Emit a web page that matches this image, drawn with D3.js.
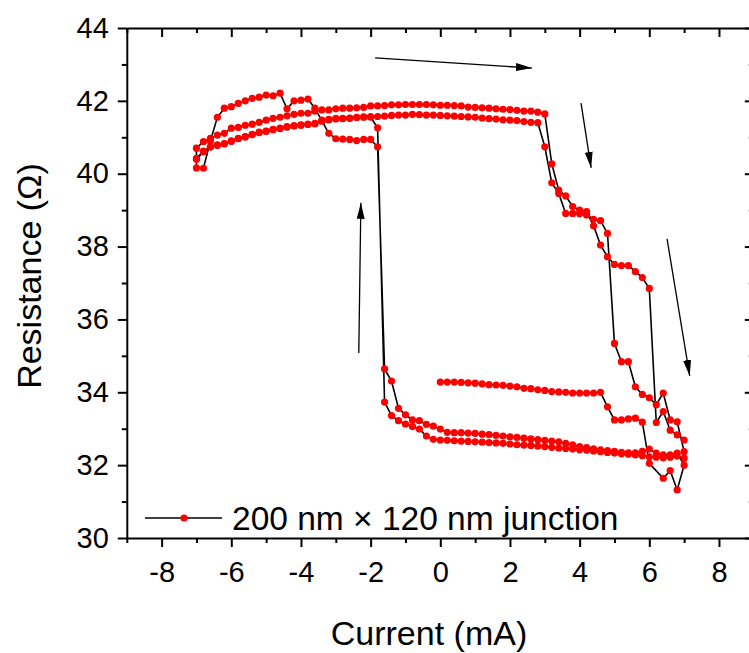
<!DOCTYPE html>
<meta charset="utf-8">
<style>
body { margin: 0; background: #fff; }
text { font-family: "Liberation Sans", Arial, sans-serif; fill: #000; }
.tick text { font-size: 29px; }
.axis path, .axis line { stroke: #000; }
</style>
<body>
<script src="https://cdnjs.cloudflare.com/ajax/libs/d3/7.8.5/d3.min.js"></script>
<script>

// sweep 1: 0 -> +7 mA (initial)
var sweep1 = [[0,34.28],[0.2,34.28],[0.4,34.28],[0.6,34.27],[0.8,34.26],[1.0,34.25],[1.2,34.23],[1.4,34.21],
  [1.6,34.2],[1.8,34.19],[2.0,34.17],[2.2,34.15],[2.4,34.11],[2.6,34.1],[2.8,34.07],[3.0,34.05],[3.2,34.02],
  [3.4,34.01],[3.6,34.0],[3.8,33.98],[4.0,33.98],[4.2,33.98],[4.4,33.98],[4.6,34.0],[4.8,33.6],[5.0,33.24],
  [5.2,33.24],[5.4,33.27],[5.6,33.29],[5.8,33.18],[6.0,32.05],[6.4,31.64],[6.6,31.85],[6.8,31.32],[7.0,32.0]];

// sweep 2: +7 -> -7 mA
var sweep2 = [[6.8,32.33],[6.6,32.28],[6.4,32.28],[6.2,32.33],[6.0,32.44],[5.8,32.38],[5.6,32.34],[5.4,32.34],
  [5.2,32.35],[5.0,32.38],[4.8,32.4],[4.6,32.42],[4.4,32.45],[4.2,32.48],[4.0,32.51],[3.8,32.56],[3.6,32.6],
  [3.4,32.64],[3.2,32.66],[3.0,32.68],[2.8,32.7],[2.6,32.72],[2.4,32.74],[2.2,32.76],[2.0,32.78],[1.8,32.8],
  [1.6,32.82],[1.4,32.84],[1.2,32.85],[1.0,32.87],[0.8,32.88],[0.6,32.89],[0.4,32.89],[0.2,32.9],[0.0,32.99],
  [-0.2,33.07],[-0.4,33.12],[-0.6,33.22],[-0.8,33.24],[-1.0,33.38],[-1.2,33.56],[-1.4,34.31],[-1.6,34.64],
  [-1.8,40.74],[-2.0,40.94],[-2.2,40.94],[-2.4,40.91],[-2.6,40.94],[-2.8,40.95],[-3.0,40.96],[-3.2,41.11],
  [-3.4,41.45],[-3.6,41.8],[-3.8,42.05],[-4.0,42.02],[-4.2,42.0],[-4.4,41.78],[-4.6,42.21],[-4.8,42.14],
  [-5.0,42.16],[-5.2,42.1],[-5.4,42.07],[-5.6,42.0],[-5.8,41.93],[-6.0,41.84],[-6.2,41.8],[-6.4,41.55],
  [-6.6,40.9],[-6.8,40.15],[-7.0,40.16]];

// sweep 3: -7 -> +7 mA
var sweep3 = [[-7.0,40.4],[-6.8,40.6],[-6.6,40.74],[-6.4,40.79],[-6.2,40.83],[-6.0,40.9],[-5.8,40.97],
  [-5.6,41.02],[-5.4,41.08],[-5.2,41.14],[-5.0,41.17],[-4.8,41.22],[-4.6,41.25],[-4.4,41.29],[-4.2,41.32],
  [-4.0,41.34],[-3.8,41.36],[-3.6,41.38],[-3.4,41.47],[-3.2,41.49],[-3.0,41.52],[-2.8,41.52],[-2.6,41.53],
  [-2.4,41.55],[-2.2,41.56],[-2.0,41.57],[-1.8,41.57],[-1.6,41.58],[-1.4,41.6],[-1.2,41.61],[-1.0,41.61],
  [-0.8,41.63],[-0.6,41.62],[-0.4,41.61],[-0.2,41.61],[0.0,41.6],[0.2,41.59],[0.4,41.58],[0.6,41.57],
  [0.8,41.56],[1.0,41.55],[1.2,41.53],[1.4,41.51],[1.6,41.5],[1.8,41.48],[2.0,41.47],[2.2,41.46],
  [2.4,41.43],[2.6,41.41],[2.8,41.4],[3.0,40.74],[3.2,39.75],[3.4,39.46],[3.6,38.91],[3.8,38.91],
  [4.0,38.9],[4.2,38.87],[4.4,38.75],[4.6,38.71],[4.8,38.36],[5.0,35.34],[5.2,34.84],[5.4,34.84],
  [5.6,34.15],[5.8,33.94],[6.0,33.85],[6.2,33.66],[6.4,33.98],[6.6,33.24],[6.8,33.19],[7.0,32.37]];

// sweep 4: +7 -> -7 mA
var sweep4 = [[7.0,32.19],[6.8,32.25],[6.6,32.22],[6.4,32.2],[6.2,32.22],[6.0,32.23],[5.8,32.26],[5.6,32.28],
  [5.4,32.3],[5.2,32.31],[5.0,32.33],[4.8,32.35],[4.6,32.37],[4.4,32.39],[4.2,32.41],[4.0,32.42],[3.8,32.44],
  [3.6,32.46],[3.4,32.47],[3.2,32.49],[3.0,32.51],[2.8,32.52],[2.6,32.54],[2.4,32.55],[2.2,32.56],[2.0,32.58],
  [1.8,32.6],[1.6,32.61],[1.4,32.62],[1.2,32.63],[1.0,32.64],[0.8,32.65],[0.6,32.66],[0.4,32.67],[0.2,32.68],
  [0.0,32.69],[-0.2,32.71],[-0.4,32.8],[-0.6,32.99],[-0.8,33.06],[-1.0,33.13],[-1.2,33.22],[-1.4,33.36],
  [-1.6,33.73],[-1.8,41.26],[-2.0,41.55],[-2.2,41.55],[-2.4,41.54],[-2.6,41.52],[-2.8,41.51],[-3.0,41.5],
  [-3.2,41.48],[-3.4,41.45],[-3.6,41.37],[-3.8,41.35],[-4.0,41.33],[-4.2,41.31],[-4.4,41.28],[-4.6,41.24],
  [-4.8,41.21],[-5.0,41.16],[-5.2,41.13],[-5.4,41.07],[-5.6,41.01],[-5.8,40.96],[-6.0,40.89],[-6.2,40.82],
  [-6.4,40.78],[-6.6,40.73],[-6.8,40.62],[-7.0,40.42]];

// sweep 5: -7 -> +7 mA
var sweep5 = [[-7.0,40.7],[-6.8,40.88],[-6.6,40.97],[-6.4,41.06],[-6.2,41.11],[-6.0,41.25],[-5.8,41.27],
  [-5.6,41.33],[-5.4,41.36],[-5.2,41.41],[-5.0,41.47],[-4.8,41.52],[-4.6,41.55],[-4.4,41.59],[-4.2,41.63],
  [-4.0,41.66],[-3.8,41.66],[-3.6,41.72],[-3.4,41.75],[-3.2,41.75],[-3.0,41.78],[-2.8,41.8],[-2.6,41.8],
  [-2.4,41.81],[-2.2,41.82],[-2.0,41.86],[-1.8,41.86],[-1.6,41.87],[-1.4,41.89],[-1.2,41.89],[-1.0,41.9],
  [-0.8,41.9],[-0.6,41.9],[-0.4,41.9],[-0.2,41.89],[0.0,41.88],[0.2,41.88],[0.4,41.87],[0.6,41.86],
  [0.8,41.83],[1.0,41.82],[1.2,41.81],[1.4,41.8],[1.6,41.78],[1.8,41.77],[2.0,41.76],[2.2,41.74],
  [2.4,41.72],[2.6,41.72],[2.8,41.69],[3.0,41.64],[3.2,40.27],[3.4,39.55],[3.6,39.39],[3.8,39.1],
  [4.0,39.0],[4.2,38.96],[4.4,38.57],[4.6,38.04],[4.8,37.72],[5.0,37.51],[5.2,37.48],[5.4,37.48],
  [5.6,37.31],[5.8,37.15],[6.0,36.85],[6.2,33.17],[6.4,33.47],[6.6,32.96],[6.8,32.83],[7.0,32.69]];

var xTicks = [-8, -6, -4, -2, 0, 2, 4, 6, 8];
var yTicks = [30, 32, 34, 36, 38, 40, 42, 44];

// sweep-direction arrows, [[I0, R0], [I1, R1]]
var arrows = [
  [[-1.87, 43.18], [2.63, 42.9]],
  [[4.04, 41.94], [4.33, 40.16]],
  [[6.51, 38.21], [7.16, 34.45]],
  [[-2.34, 35.08], [-2.28, 39.2]]
];

var legendLabel = "200 nm \u00d7 120 nm junction";

var width = 749,
    height = 653;

var x = d3.scaleLinear().domain([-9, 9]).range([126.8, 753.8]),
    y = d3.scaleLinear().domain([30, 44]).range([538, 28]);

var svg = d3.select("body").append("svg")
    .attr("width", width)
    .attr("height", height);

var data = sweep1.concat(sweep2, sweep3, sweep4, sweep5);

// minor ticks every 1 mA / 1 ohm
var xMinor = d3.range(-9, 10, 1).filter(function(d) { return d % 2 !== 0; });
var yMinor = d3.range(31, 44, 2);

// plain hyphen for negatives, like the original
var fmt = function(d) { return String(d); };

function minor(g, axis) {
  g.call(axis);
  g.select(".domain").remove();
  g.selectAll("text").remove();
  g.selectAll("line").attr("stroke-width", 2);
}

// bottom
svg.append("g")
    .attr("transform", "translate(0," + y(30) + ")")
    .call(minor, d3.axisBottom(x).tickValues(xMinor).tickSize(5));
svg.append("g")
    .attr("class", "axis")
    .attr("transform", "translate(0," + y(30) + ")")
    .call(d3.axisBottom(x).tickValues(xTicks).tickSize(9).tickSizeOuter(0).tickFormat(fmt))
    .call(function(g) {
      g.select(".domain").attr("stroke-width", 2);
      g.selectAll("line").attr("stroke-width", 2);
      g.selectAll("text").attr("y", 44).attr("dy", 0);
    });

// top (ticks inside)
svg.append("g")
    .attr("transform", "translate(0," + y(44) + ")")
    .call(minor, d3.axisBottom(x).tickValues(xMinor).tickSize(5));
svg.append("g")
    .attr("class", "axis")
    .attr("transform", "translate(0," + y(44) + ")")
    .call(d3.axisBottom(x).tickValues(xTicks).tickSize(9).tickSizeOuter(0).tickFormat(""))
    .call(function(g) {
      g.select(".domain").attr("stroke-width", 2);
      g.selectAll("line").attr("stroke-width", 2);
    });

// left
svg.append("g")
    .attr("transform", "translate(" + x(-9) + ",0)")
    .call(minor, d3.axisLeft(y).tickValues(yMinor).tickSize(5));
svg.append("g")
    .attr("class", "axis")
    .attr("transform", "translate(" + x(-9) + ",0)")
    .call(d3.axisLeft(y).tickValues(yTicks).tickSize(9).tickSizeOuter(0).tickFormat(fmt))
    .call(function(g) {
      g.select(".domain").attr("stroke-width", 2);
      g.selectAll("line").attr("stroke-width", 2);
      g.selectAll("text").attr("x", -18);
    });

// right (ticks inside)
svg.append("g")
    .attr("transform", "translate(" + x(9) + ",0)")
    .call(minor, d3.axisLeft(y).tickValues(yMinor).tickSize(5));
svg.append("g")
    .attr("class", "axis")
    .attr("transform", "translate(" + x(9) + ",0)")
    .call(d3.axisLeft(y).tickValues(yTicks).tickSize(9).tickSizeOuter(0).tickFormat(""))
    .call(function(g) {
      g.select(".domain").attr("stroke-width", 2);
      g.selectAll("line").attr("stroke-width", 2);
    });

// axis titles
svg.append("text")
    .attr("x", 429)
    .attr("y", 645)
    .attr("text-anchor", "middle")
    .style("font-size", "34px")
    .text("Current (mA)");

svg.append("text")
    .attr("transform", "translate(41,276) rotate(-90)")
    .attr("text-anchor", "middle")
    .style("font-size", "34px")
    .text("Resistance (\u03a9)");

// data
var line = d3.line()
    .x(function(d) { return x(d[0]); })
    .y(function(d) { return y(d[1]); });

svg.append("path")
    .datum(data)
    .attr("fill", "none")
    .attr("stroke", "#000")
    .attr("stroke-width", 1.6)
    .attr("d", line);

svg.append("g")
    .selectAll("circle")
    .data(data)
  .enter().append("circle")
    .attr("cx", function(d) { return x(d[0]); })
    .attr("cy", function(d) { return y(d[1]); })
    .attr("r", 3.6)
    .attr("fill", "#ff0000");

// arrows
svg.append("defs").append("marker")
    .attr("id", "head")
    .attr("viewBox", "0 0 16 8")
    .attr("refX", 16)
    .attr("refY", 4)
    .attr("markerWidth", 16)
    .attr("markerHeight", 8)
    .attr("markerUnits", "userSpaceOnUse")
    .attr("orient", "auto")
  .append("path")
    .attr("d", "M0,0L16,4L0,8Z")
    .attr("fill", "#000");

svg.append("g")
    .selectAll("line")
    .data(arrows)
  .enter().append("line")
    .attr("x1", function(d) { return x(d[0][0]); })
    .attr("y1", function(d) { return y(d[0][1]); })
    .attr("x2", function(d) { return x(d[1][0]); })
    .attr("y2", function(d) { return y(d[1][1]); })
    .attr("stroke", "#000")
    .attr("stroke-width", 1.3)
    .attr("marker-end", "url(#head)");

// legend
var legend = svg.append("g").attr("transform", "translate(0,518)");
legend.append("line")
    .attr("x1", 145).attr("x2", 222)
    .attr("stroke", "#000").attr("stroke-width", 1.6);
legend.append("circle")
    .attr("cx", 184).attr("r", 3.6).attr("fill", "#ff0000");
legend.append("text")
    .attr("x", 232)
    .attr("y", 12)
    .style("font-size", "33.5px")
    .text(legendLabel);

</script>
